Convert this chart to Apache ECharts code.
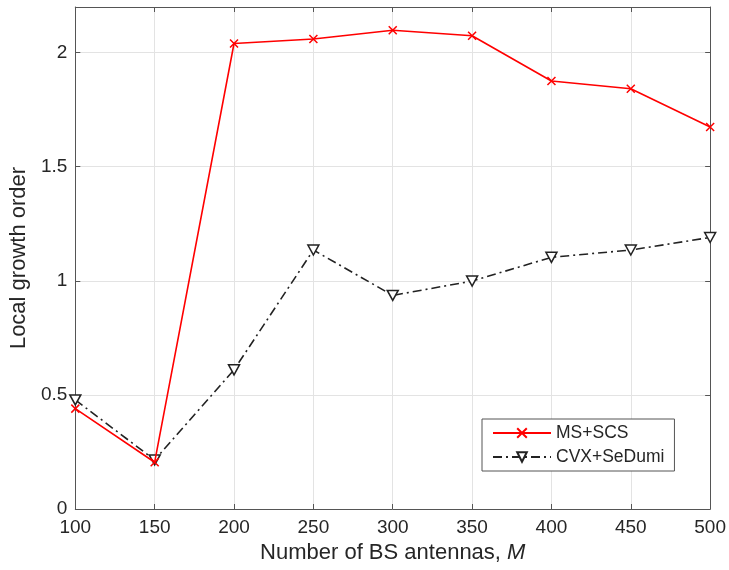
<!DOCTYPE html>
<html>
<head>
<meta charset="utf-8">
<script src="https://cdn.jsdelivr.net/npm/echarts@6/dist/echarts.min.js"></script>
<style>html,body{margin:0;padding:0;background:#fff}#c{width:729px;height:570px}</style>
</head>
<body>
<div id="c"></div>
<script>
var antennas = [100, 150, 200, 250, 300, 350, 400, 450, 500];
var msScs = [0.44, 0.205, 2.04, 2.06, 2.098, 2.074, 1.876, 1.842, 1.674];
var cvxSedumi = [0.478, 0.215, 0.61, 1.135, 0.936, 0.999, 1.103, 1.135, 1.19];
var seriesNames = ['MS+SCS', 'CVX+SeDumi'];
var xTitle = 'Number of BS antennas, {i|M}';
var yTitle = 'Local growth order';

var font = 'Liberation Sans, Arial, sans-serif';
var txt = '#262626';
var axisCol = '#555';
var gridCol = '#e3e3e3';

function pairs(vals) { return antennas.map(function (x, i) { return [x, vals[i]]; }); }

var chart = echarts.init(document.getElementById('c'), null, {renderer: 'canvas'});
chart.setOption({
  backgroundColor: '#fff',
  animation: false,
  textStyle: {fontFamily: font, color: txt},
  grid: {left: 75, right: 18, top: 7, bottom: 61, containLabel: false},
  legend: {
    orient: 'vertical', left: 482, top: 419,
    width: 193,
    padding: [5, 10, 5, 10],
    itemGap: 6, itemWidth: 58, itemHeight: 12,
    borderColor: '#555', borderWidth: 1, backgroundColor: '#fff',
    textStyle: {fontFamily: font, fontSize: 17.5, color: txt, lineHeight: 18},
    data: seriesNames
  },
  xAxis: [{
    type: 'value', min: 100, max: 500, interval: 50,
    name: xTitle, nameLocation: 'middle', nameGap: 33,
    nameTextStyle: {fontFamily: font, fontSize: 22, color: txt, rich: {i: {fontStyle: 'italic', fontFamily: font, fontSize: 22, color: txt}}},
    axisLine: {show: true, onZero: false, lineStyle: {color: axisCol, width: 1}},
    axisTick: {show: true, inside: true, length: 5, lineStyle: {color: axisCol}},
    axisLabel: {fontFamily: font, fontSize: 19, color: txt, margin: 9},
    splitLine: {show: true, lineStyle: {color: gridCol, width: 1}}
  }, {
    type: 'value', min: 100, max: 500, interval: 50, position: 'top',
    axisLine: {show: true, onZero: false, lineStyle: {color: axisCol, width: 1}},
    axisTick: {show: true, inside: true, length: 5, lineStyle: {color: axisCol}},
    axisLabel: {show: false}, splitLine: {show: false}
  }],
  yAxis: [{
    type: 'value', min: 0, max: 2.2, interval: 0.5,
    name: yTitle, nameLocation: 'middle', nameGap: 41, nameRotate: 90,
    nameTextStyle: {fontFamily: font, fontSize: 22, color: txt},
    axisLine: {show: true, onZero: false, lineStyle: {color: axisCol, width: 1}},
    axisTick: {show: true, inside: true, length: 5, lineStyle: {color: axisCol}},
    axisLabel: {fontFamily: font, fontSize: 19, color: txt, margin: 8,
      formatter: function (v) { return (Math.abs(v * 2 - Math.round(v * 2)) < 1e-6) ? String(v) : ''; }},
    splitLine: {show: true, lineStyle: {color: gridCol, width: 1}}
  }, {
    type: 'value', min: 0, max: 2.2, interval: 0.5, position: 'right',
    axisLine: {show: true, onZero: false, lineStyle: {color: axisCol, width: 1}},
    axisTick: {show: true, inside: true, length: 5, lineStyle: {color: axisCol}},
    axisLabel: {show: false}, splitLine: {show: false}
  }],
  series: [{
    name: seriesNames[0], type: 'line', data: pairs(msScs),
    xAxisIndex: 0, yAxisIndex: 0,
    symbol: 'path://M0,0L10,10M10,0L0,10', symbolSize: 8,
    lineStyle: {color: '#ff0000', width: 1.6},
    itemStyle: {color: '#ff0000', borderColor: '#ff0000', borderWidth: 1.5},
    z: 3
  }, {
    name: seriesNames[1], type: 'line', data: pairs(cvxSedumi),
    xAxisIndex: 0, yAxisIndex: 0,
    symbol: 'triangle', symbolRotate: 180, symbolSize: [11, 10],
    lineStyle: {color: '#222', width: 1.6, type: [9, 4, 2, 4]},
    itemStyle: {color: '#fff', borderColor: '#222', borderWidth: 1.5},
    z: 2
  }]
});
</script>
</body>
</html>
